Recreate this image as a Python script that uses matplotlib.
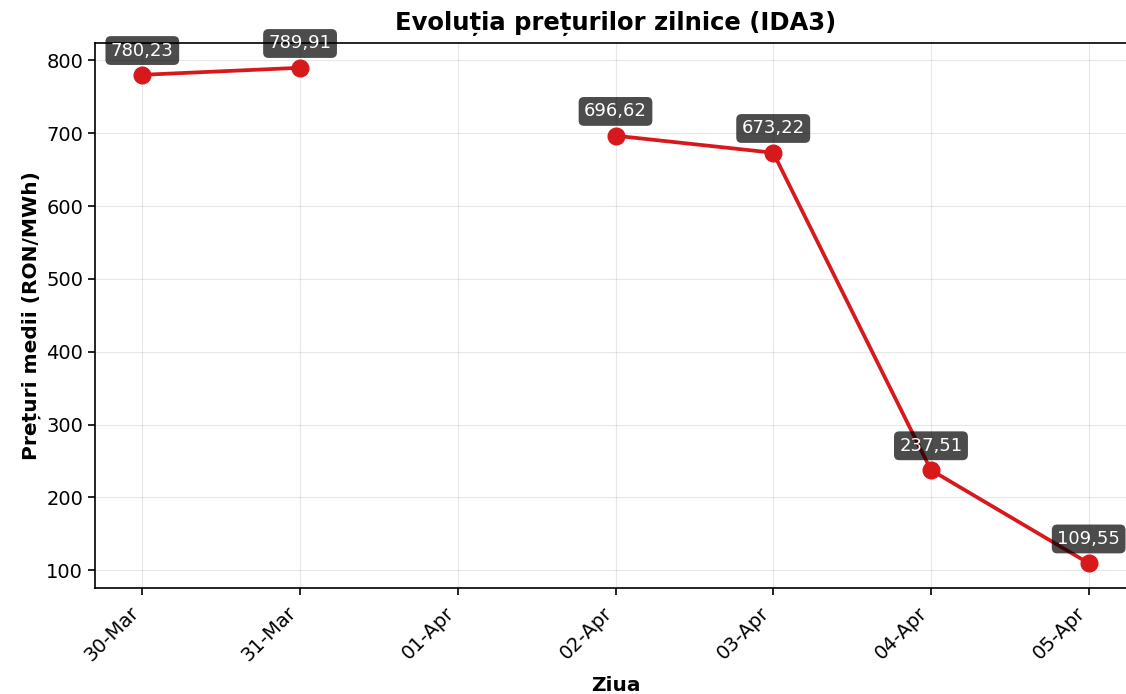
import numpy as np
import pandas as pd
import matplotlib
matplotlib.use('Agg')
import matplotlib.pyplot as plt
import matplotlib.dates as mdates

# daily average prices IDA3 (01-Apr missing)
dates = pd.to_datetime(['2025-03-30', '2025-03-31', '2025-04-01', '2025-04-02',
                        '2025-04-03', '2025-04-04', '2025-04-05'])
prices = [780.23, 789.91, np.nan, 696.62, 673.22, 237.51, 109.55]

fig = plt.figure(figsize=(11.26, 6.94), dpi=100)
ax = fig.add_axes([95 / 1126, 1 - 588 / 694, (1136 - 95) / 1126, (588 - 43) / 694])

ax.plot(dates, prices, color='#d7191c', lw=2.7, marker='o', markersize=12)

for d, p in zip(dates, prices):
    if np.isnan(p):
        continue
    ax.annotate(f'{p:.2f}'.replace('.', ','), (d, p), xytext=(0, 11),
                textcoords='offset points', ha='center', va='bottom',
                fontsize=13, color='white',
                bbox=dict(boxstyle='round,pad=0.3', facecolor='black',
                          edgecolor='none', alpha=0.7))

ax.set_title('Evoluția prețurilor zilnice (IDA3)', fontsize=17.5, fontweight='bold', pad=9)
ax.set_xlabel('Ziua', fontsize=14.5, fontweight='bold', labelpad=8)
ax.set_ylabel('Prețuri medii (RON/MWh)', fontsize=14.5, fontweight='bold')

ax.set_xticks(dates)
ax.xaxis.set_major_formatter(mdates.DateFormatter('%d-%b'))
plt.setp(ax.get_xticklabels(), rotation=45, ha='right')
ax.tick_params(labelsize=14, width=1.2, length=5)
ax.tick_params(axis='x', pad=6)
for s in ax.spines.values():
    s.set_linewidth(1.2)
ax.grid(True, alpha=0.3)

fig.savefig('out.png', dpi=100)
